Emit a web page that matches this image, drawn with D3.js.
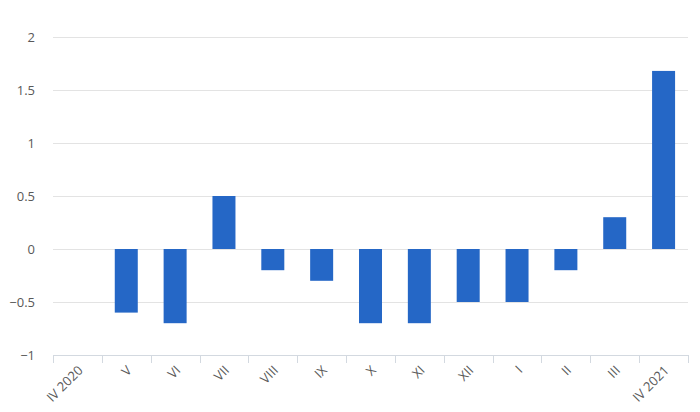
<!DOCTYPE html>
<html>
<head>
<meta charset="utf-8">
<script src="https://cdn.jsdelivr.net/npm/d3@7"></script>
<style>
  body { margin: 0; background: #fff; }
  text { font-family: "Open Sans", "Noto Sans", sans-serif; fill: #595959; }
</style>
</head>
<body>
<svg id="chart" width="700" height="412"></svg>
<script>
const categories = ["IV 2020", "V", "VI", "VII", "VIII", "IX", "X", "XI", "XII", "I", "II", "III", "IV 2021"];
const values = [0, -0.6, -0.7, 0.5, -0.2, -0.3, -0.7, -0.7, -0.5, -0.5, -0.2, 0.3, 1.68];
const yTicks = [-1, -0.5, 0, 0.5, 1, 1.5, 2];

const svg = d3.select("#chart");
const mLeft = 53, mRight = 688, mTop = 37, mBottom = 355;

const xb = d3.scaleBand().domain(categories).range([mLeft, mRight]);
const y = d3.scaleLinear().domain([-1, 2]).range([mBottom, mTop]);

// gridlines
svg.append("g").selectAll("line").data(yTicks.filter(d => d !== -1)).join("line")
  .attr("x1", mLeft).attr("x2", mRight)
  .attr("y1", d => Math.round(y(d)) + 0.5).attr("y2", d => Math.round(y(d)) + 0.5)
  .attr("stroke", "#e3e3e3").attr("stroke-width", 1);

// y labels
svg.append("g").selectAll("text").data(yTicks).join("text")
  .attr("x", 35).attr("y", d => y(d)).attr("dy", "0.35em")
  .attr("text-anchor", "end").attr("font-size", 13)
  .text(d => d < 0 ? "\u2212" + Math.abs(d) : d);

// bars
svg.append("g").selectAll("rect").data(categories.map((c, i) => ({c, v: values[i]}))).join("rect")
  .attr("x", d => xb(d.c) + (xb.bandwidth() - 23) / 2)
  .attr("width", 23)
  .attr("y", d => y(Math.max(0, d.v)))
  .attr("height", d => Math.abs(y(d.v) - y(0)))
  .attr("fill", "#2567c6");

// x axis line
svg.append("line").attr("x1", mLeft).attr("x2", mRight).attr("y1", mBottom + 0.5).attr("y2", mBottom + 0.5)
  .attr("stroke", "#d3d9e0").attr("stroke-width", 1);
// ticks at band boundaries
const bounds = categories.map(c => xb(c)).concat([mRight]);
svg.append("g").selectAll("line").data(bounds).join("line")
  .attr("x1", d => Math.round(d) + 0.5).attr("x2", d => Math.round(d) + 0.5)
  .attr("y1", mBottom).attr("y2", mBottom + 8)
  .attr("stroke", "#d3d9e0").attr("stroke-width", 1);

// x labels rotated
svg.append("g").selectAll("text").data(categories).join("text")
  .attr("transform", c => `translate(${xb(c) + xb.bandwidth() / 2 + 3},${mBottom + 13}) rotate(-45)`)
  .attr("text-anchor", "end").attr("dy", "0.35em").attr("font-size", 13)
  .text(c => c);
</script>
</body>
</html>
